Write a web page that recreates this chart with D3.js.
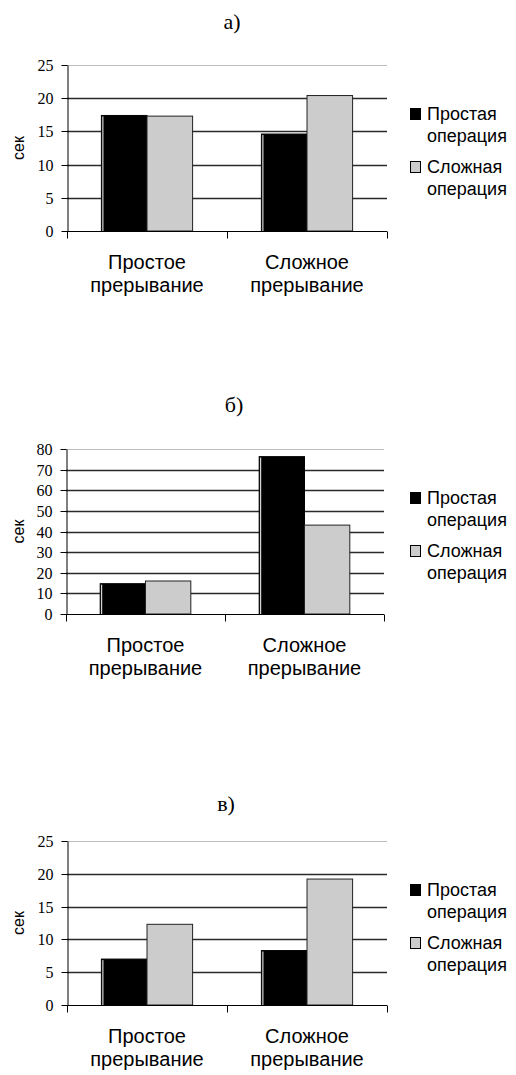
<!DOCTYPE html>
<html><head><meta charset="utf-8">
<script src="https://cdn.jsdelivr.net/npm/d3@7"></script>
<style>body{margin:0;background:#fff}svg{display:block}</style>
</head><body>
<script>
// ---- data ----
const categories = ["Простое прерывание", "Сложное прерывание"];
const categoryLines = [["Простое", "прерывание"], ["Сложное", "прерывание"]];
const seriesNames = ["Простая операция", "Сложная операция"];
const legendLines = [["Простая", "операция"], ["Сложная", "операция"]];
const panelTitles = ["а)", "б)", "в)"];
const yLabel = "сек";

const simpleA = [17.4, 14.6];
const complexA = [17.3, 20.4];
const simpleB = [14.7, 76.3];
const complexB = [16.0, 43.1];
const simpleC = [7.0, 8.3];
const complexC = [12.3, 19.2];

const ticksA = [0, 5, 10, 15, 20, 25];
const ticksB = [0, 10, 20, 30, 40, 50, 60, 70, 80];
const ticksC = [0, 5, 10, 15, 20, 25];

// ---- layout ----
const W = 516, H = 1075;
const panels = [
  {title: panelTitles[0], simple: simpleA, complex: complexA, ticks: ticksA, top: 65, bottom: 231, x0: 67, x1: 387, titleX: 232, titleY: 29},
  {title: panelTitles[1], simple: simpleB, complex: complexB, ticks: ticksB, top: 449, bottom: 614, x0: 66, x1: 384, titleX: 234, titleY: 412},
  {title: panelTitles[2], simple: simpleC, complex: complexC, ticks: ticksC, top: 841, bottom: 1005, x0: 67, x1: 387, titleX: 226, titleY: 811}
];
const colors = ["#000000", "#cccccc"];
const serif = "'Liberation Serif','Times New Roman',serif";
const sans = "'Liberation Sans',Arial,sans-serif";

const svg = d3.select("body").append("svg").attr("width", W).attr("height", H);

panels.forEach(p => {
  const g = svg.append("g");
  const maxV = d3.max(p.ticks);
  const y = d3.scaleLinear().domain([0, maxV]).range([p.bottom, p.top]);
  const x = d3.scaleBand().domain(categories).range([p.x0, p.x1]).padding(0);
  const groupW = x.bandwidth() * 0.57;
  const xs = d3.scaleBand().domain(seriesNames).range([0, groupW]).padding(0);
  const off = (x.bandwidth() - groupW) / 2;

  // title
  g.append("text").attr("x", p.titleX).attr("y", p.titleY)
    .attr("text-anchor", "middle").attr("font-family", serif).attr("font-size", 22)
    .text(p.title);

  // gridlines
  g.selectAll("line.grid").data(p.ticks.filter(t => t > 0)).join("line")
    .attr("x1", p.x0).attr("x2", p.x1)
    .attr("y1", d => Math.round(y(d)) + 0.5).attr("y2", d => Math.round(y(d)) + 0.5)
    .attr("stroke", d => d === maxV ? "#bdbdbd" : "#2a2a2a")
    .attr("stroke-width", d => d === maxV ? 1.2 : 1.4);

  // y axis
  const yAxis = d3.axisLeft(y).tickValues(p.ticks).tickSize(6).tickPadding(8).tickSizeOuter(0);
  const ya = g.append("g").attr("transform", `translate(${p.x0 + 0.5},0)`).call(yAxis);
  ya.select(".domain").attr("stroke", "#000");
  ya.selectAll(".tick line").attr("stroke", "#000");
  ya.selectAll(".tick text").attr("font-family", serif).attr("font-size", 16).attr("fill", "#000");
  ya.selectAll(".tick").attr("transform", d => `translate(0,${Math.round(y(d)) + 0.5})`);

  // bars
  const rows = categories.map((c, i) => ({cat: c, vals: [p.simple[i], p.complex[i]]}));
  rows.forEach(r => {
    g.selectAll(null).data(r.vals).join("rect")
      .attr("x", (d, j) => x(r.cat) + off + xs(seriesNames[j]))
      .attr("y", d => y(d))
      .attr("width", xs.bandwidth())
      .attr("height", d => p.bottom - y(d))
      .attr("fill", (d, j) => colors[j])
      .attr("stroke", (d, j) => j === 0 ? "#000" : "#222").attr("stroke-width", 1);
    // thin white inner line on the left of black bars
    g.append("line")
      .attr("x1", x(r.cat) + off + 1.5).attr("x2", x(r.cat) + off + 1.5)
      .attr("y1", y(r.vals[0]) + 1).attr("y2", p.bottom)
      .attr("stroke", "#fff").attr("stroke-width", 1);
  });

  // x axis
  const xa = g.append("g").attr("transform", `translate(0,${p.bottom + 0.5})`);
  xa.append("line").attr("x1", p.x0).attr("x2", p.x1).attr("stroke", "#000");
  const tickPos = [p.x0, ...categories.map(c => x(c) + x.bandwidth())];
  xa.selectAll("line.t").data(tickPos).join("line")
    .attr("x1", d => d + 0.5).attr("x2", d => d + 0.5).attr("y1", 0).attr("y2", 7).attr("stroke", "#000");

  // category labels
  categories.forEach((c, i) => {
    const t = g.append("text").attr("text-anchor", "middle")
      .attr("font-family", sans).attr("font-size", 20).attr("fill", "#000");
    categoryLines[i].forEach((ln, k) => {
      t.append("tspan").attr("x", x(c) + x.bandwidth() / 2).attr("y", p.bottom + 38 + k * 23).text(ln);
    });
  });

  // y label
  g.append("text").attr("transform", `translate(24,${(p.top + p.bottom) / 2}) rotate(-90)`)
    .attr("text-anchor", "middle").attr("font-family", sans).attr("font-size", 16)
    .text(yLabel);

  // legend
  seriesNames.forEach((s, i) => {
    const base = p.top + 55 + i * 53;
    g.append("rect").attr("x", 410.5).attr("y", base - 11.5).attr("width", 10).attr("height", 11)
      .attr("fill", colors[i]).attr("stroke", "#000").attr("stroke-width", 1);
    const t = g.append("text").attr("font-family", sans).attr("font-size", 18).attr("fill", "#000");
    legendLines[i].forEach((ln, k) => {
      t.append("tspan").attr("x", 427).attr("y", base + k * 22).text(ln);
    });
  });
});
</script>
</body></html>
